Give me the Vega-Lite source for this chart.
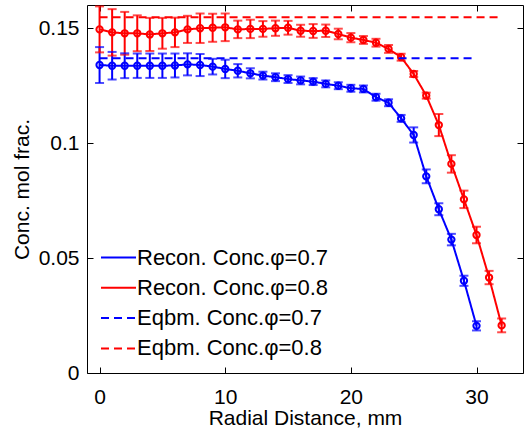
{
 "$schema": "https://vega.github.io/schema/vega-lite/v6.json",
 "width": 436, "height": 368,
 "autosize": {"type": "none"},
 "padding": {"left": 87, "top": 5, "right": 1, "bottom": 57},
 "background": "white",
 "config": {
  "font": "Liberation Sans",
  "view": {"stroke": "black", "strokeWidth": 1},
  "axis": {"domain": false, "grid": false, "tickSize": -6, "tickColor": "black", "tickWidth": 1,
           "labelFontSize": 21, "titleFontSize": 21, "titleFontWeight": "normal", "labelColor": "black", "titleColor": "black"}
 },
 "datasets": {
  "recon": [
   {"x":0,"y":0.1339,"lo":0.1261,"hi":0.1417,"series":"Recon. Conc.φ=0.7"},
   {"x":1,"y":0.1336,"lo":0.1276,"hi":0.1396,"series":"Recon. Conc.φ=0.7"},
   {"x":2,"y":0.1336,"lo":0.1282,"hi":0.1390,"series":"Recon. Conc.φ=0.7"},
   {"x":3,"y":0.1336,"lo":0.1283,"hi":0.1389,"series":"Recon. Conc.φ=0.7"},
   {"x":4,"y":0.1336,"lo":0.1283,"hi":0.1389,"series":"Recon. Conc.φ=0.7"},
   {"x":5,"y":0.1336,"lo":0.1283,"hi":0.1389,"series":"Recon. Conc.φ=0.7"},
   {"x":6,"y":0.1337,"lo":0.1285,"hi":0.1389,"series":"Recon. Conc.φ=0.7"},
   {"x":7,"y":0.1342,"lo":0.1294,"hi":0.1390,"series":"Recon. Conc.φ=0.7"},
   {"x":8,"y":0.1339,"lo":0.1291,"hi":0.1387,"series":"Recon. Conc.φ=0.7"},
   {"x":9,"y":0.1332,"lo":0.1298,"hi":0.1366,"series":"Recon. Conc.φ=0.7"},
   {"x":10,"y":0.1322,"lo":0.1282,"hi":0.1362,"series":"Recon. Conc.φ=0.7"},
   {"x":11,"y":0.1314,"lo":0.1285,"hi":0.1343,"series":"Recon. Conc.φ=0.7"},
   {"x":12,"y":0.1303,"lo":0.1281,"hi":0.1325,"series":"Recon. Conc.φ=0.7"},
   {"x":13,"y":0.1293,"lo":0.1276,"hi":0.1310,"series":"Recon. Conc.φ=0.7"},
   {"x":14,"y":0.1286,"lo":0.1269,"hi":0.1303,"series":"Recon. Conc.φ=0.7"},
   {"x":15,"y":0.1278,"lo":0.1261,"hi":0.1295,"series":"Recon. Conc.φ=0.7"},
   {"x":16,"y":0.1272,"lo":0.1255,"hi":0.1289,"series":"Recon. Conc.φ=0.7"},
   {"x":17,"y":0.1267,"lo":0.1252,"hi":0.1282,"series":"Recon. Conc.φ=0.7"},
   {"x":18,"y":0.1257,"lo":0.1242,"hi":0.1272,"series":"Recon. Conc.φ=0.7"},
   {"x":19,"y":0.1249,"lo":0.1234,"hi":0.1264,"series":"Recon. Conc.φ=0.7"},
   {"x":20,"y":0.1238,"lo":0.1223,"hi":0.1253,"series":"Recon. Conc.φ=0.7"},
   {"x":21,"y":0.1235,"lo":0.1220,"hi":0.1250,"series":"Recon. Conc.φ=0.7"},
   {"x":22,"y":0.1199,"lo":0.1184,"hi":0.1214,"series":"Recon. Conc.φ=0.7"},
   {"x":23,"y":0.1175,"lo":0.1160,"hi":0.1190,"series":"Recon. Conc.φ=0.7"},
   {"x":24,"y":0.1107,"lo":0.1092,"hi":0.1122,"series":"Recon. Conc.φ=0.7"},
   {"x":25,"y":0.1035,"lo":0.1002,"hi":0.1068,"series":"Recon. Conc.φ=0.7"},
   {"x":26,"y":0.0855,"lo":0.0825,"hi":0.0885,"series":"Recon. Conc.φ=0.7"},
   {"x":27,"y":0.0712,"lo":0.0686,"hi":0.0738,"series":"Recon. Conc.φ=0.7"},
   {"x":28,"y":0.0580,"lo":0.0555,"hi":0.0605,"series":"Recon. Conc.φ=0.7"},
   {"x":29,"y":0.0401,"lo":0.0379,"hi":0.0423,"series":"Recon. Conc.φ=0.7"},
   {"x":30,"y":0.0205,"lo":0.0185,"hi":0.0225,"series":"Recon. Conc.φ=0.7"},
   {"x":0,"y":0.1494,"lo":0.1394,"hi":0.1594,"series":"Recon. Conc.φ=0.8"},
   {"x":1,"y":0.1481,"lo":0.1380,"hi":0.1582,"series":"Recon. Conc.φ=0.8"},
   {"x":2,"y":0.1477,"lo":0.1384,"hi":0.1570,"series":"Recon. Conc.φ=0.8"},
   {"x":3,"y":0.1477,"lo":0.1399,"hi":0.1555,"series":"Recon. Conc.φ=0.8"},
   {"x":4,"y":0.1472,"lo":0.1400,"hi":0.1544,"series":"Recon. Conc.φ=0.8"},
   {"x":5,"y":0.1477,"lo":0.1410,"hi":0.1544,"series":"Recon. Conc.φ=0.8"},
   {"x":6,"y":0.1481,"lo":0.1417,"hi":0.1545,"series":"Recon. Conc.φ=0.8"},
   {"x":7,"y":0.1494,"lo":0.1435,"hi":0.1553,"series":"Recon. Conc.φ=0.8"},
   {"x":8,"y":0.1499,"lo":0.1435,"hi":0.1563,"series":"Recon. Conc.φ=0.8"},
   {"x":9,"y":0.1501,"lo":0.1440,"hi":0.1562,"series":"Recon. Conc.φ=0.8"},
   {"x":10,"y":0.1503,"lo":0.1443,"hi":0.1563,"series":"Recon. Conc.φ=0.8"},
   {"x":11,"y":0.1494,"lo":0.1456,"hi":0.1532,"series":"Recon. Conc.φ=0.8"},
   {"x":12,"y":0.1496,"lo":0.1456,"hi":0.1536,"series":"Recon. Conc.φ=0.8"},
   {"x":13,"y":0.1496,"lo":0.1462,"hi":0.1530,"series":"Recon. Conc.φ=0.8"},
   {"x":14,"y":0.1499,"lo":0.1466,"hi":0.1532,"series":"Recon. Conc.φ=0.8"},
   {"x":15,"y":0.1501,"lo":0.1471,"hi":0.1531,"series":"Recon. Conc.φ=0.8"},
   {"x":16,"y":0.1488,"lo":0.1462,"hi":0.1514,"series":"Recon. Conc.φ=0.8"},
   {"x":17,"y":0.1487,"lo":0.1457,"hi":0.1517,"series":"Recon. Conc.φ=0.8"},
   {"x":18,"y":0.1488,"lo":0.1461,"hi":0.1515,"series":"Recon. Conc.φ=0.8"},
   {"x":19,"y":0.1474,"lo":0.1451,"hi":0.1497,"series":"Recon. Conc.φ=0.8"},
   {"x":20,"y":0.1458,"lo":0.1438,"hi":0.1478,"series":"Recon. Conc.φ=0.8"},
   {"x":21,"y":0.1448,"lo":0.1431,"hi":0.1465,"series":"Recon. Conc.φ=0.8"},
   {"x":22,"y":0.1436,"lo":0.1419,"hi":0.1453,"series":"Recon. Conc.φ=0.8"},
   {"x":23,"y":0.1409,"lo":0.1392,"hi":0.1426,"series":"Recon. Conc.φ=0.8"},
   {"x":24,"y":0.1373,"lo":0.1358,"hi":0.1388,"series":"Recon. Conc.φ=0.8"},
   {"x":25,"y":0.1300,"lo":0.1287,"hi":0.1313,"series":"Recon. Conc.φ=0.8"},
   {"x":26,"y":0.1206,"lo":0.1193,"hi":0.1219,"series":"Recon. Conc.φ=0.8"},
   {"x":27,"y":0.1078,"lo":0.1030,"hi":0.1126,"series":"Recon. Conc.φ=0.8"},
   {"x":28,"y":0.0909,"lo":0.0871,"hi":0.0947,"series":"Recon. Conc.φ=0.8"},
   {"x":29,"y":0.0755,"lo":0.0717,"hi":0.0793,"series":"Recon. Conc.φ=0.8"},
   {"x":30,"y":0.0600,"lo":0.0564,"hi":0.0636,"series":"Recon. Conc.φ=0.8"},
   {"x":31,"y":0.0415,"lo":0.0386,"hi":0.0444,"series":"Recon. Conc.φ=0.8"},
   {"x":32,"y":0.0207,"lo":0.0177,"hi":0.0237,"series":"Recon. Conc.φ=0.8"}
  ],
  "eqbm": [
   {"x":0,"y":0.1368,"series":"Eqbm. Conc.φ=0.7"},
   {"x":30,"y":0.1368,"series":"Eqbm. Conc.φ=0.7"},
   {"x":0,"y":0.1547,"series":"Eqbm. Conc.φ=0.8"},
   {"x":32,"y":0.1547,"series":"Eqbm. Conc.φ=0.8"}
  ]
 },
 "layer": [
  {
   "layer": [
    {
     "data": {"name": "recon"},
     "mark": {"type": "rule", "strokeWidth": 2},
     "encoding": {
      "x": {"field": "x", "type": "quantitative"},
      "y": {"field": "lo", "type": "quantitative"},
      "y2": {"field": "hi"},
      "stroke": {"field": "series", "type": "nominal", "legend": null,
                 "scale": {"domain": ["Recon. Conc.φ=0.7", "Recon. Conc.φ=0.8"], "range": ["#0000ff", "#ff0000"]}}
     }
    },
    {
     "data": {"name": "recon"},
     "mark": {"type": "tick", "orient": "horizontal", "size": 9, "thickness": 2},
     "encoding": {
      "x": {"field": "x", "type": "quantitative"},
      "y": {"field": "lo", "type": "quantitative"},
      "fill": {"field": "series", "type": "nominal", "legend": null,
               "scale": {"domain": ["Recon. Conc.φ=0.7", "Recon. Conc.φ=0.8"], "range": ["#0000ff", "#ff0000"]}}
     }
    },
    {
     "data": {"name": "recon"},
     "mark": {"type": "tick", "orient": "horizontal", "size": 9, "thickness": 2},
     "encoding": {
      "x": {"field": "x", "type": "quantitative"},
      "y": {"field": "hi", "type": "quantitative"},
      "fill": {"field": "series", "type": "nominal", "legend": null}
     }
    },
    {
     "data": {"name": "recon"},
     "mark": {"type": "point", "filled": false, "strokeWidth": 2, "size": 40, "opacity": 1},
     "encoding": {
      "x": {"field": "x", "type": "quantitative"},
      "y": {"field": "y", "type": "quantitative"},
      "stroke": {"field": "series", "type": "nominal", "legend": null}
     }
    },
    {
     "data": {"name": "recon"},
     "mark": {"type": "line", "strokeWidth": 2},
     "encoding": {
      "x": {"field": "x", "type": "quantitative"},
      "y": {"field": "y", "type": "quantitative"},
      "color": {"field": "series", "type": "nominal"},
      "strokeDash": {"field": "series", "type": "nominal"}
     }
    },
    {
     "data": {"name": "eqbm"},
     "mark": {"type": "line", "strokeWidth": 2},
     "encoding": {
      "x": {"field": "x", "type": "quantitative",
            "scale": {"domain": [-1, 33.7], "nice": false, "zero": false},
            "axis": {"values": [0, 10, 20, 30], "title": "Radial Distance, mm", "labelPadding": 19, "titlePadding": 0}},
      "y": {"field": "y", "type": "quantitative",
            "scale": {"domain": [0, 0.16], "nice": false},
            "axis": {"values": [0, 0.05, 0.1, 0.15], "format": "~g", "title": "Conc. mol frac.", "labelPadding": 14, "titlePadding": 6}},
      "color": {"field": "series", "type": "nominal",
                "scale": {"domain": ["Recon. Conc.φ=0.7", "Recon. Conc.φ=0.8", "Eqbm. Conc.φ=0.7", "Eqbm. Conc.φ=0.8"],
                          "range": ["#0000ff", "#ff0000", "#0000ff", "#ff0000"]},
                "legend": {"orient": "none", "legendX": 13, "legendY": 234, "title": null, "symbolType": "stroke",
                           "symbolSize": 1225, "symbolStrokeWidth": 2, "labelFontSize": 22, "labelColor": "black",
                           "rowPadding": 0.3, "labelOffset": 0, "labelLimit": 400}},
      "strokeDash": {"field": "series", "type": "nominal",
                     "scale": {"domain": ["Recon. Conc.φ=0.7", "Recon. Conc.φ=0.8", "Eqbm. Conc.φ=0.7", "Eqbm. Conc.φ=0.8"],
                               "range": [[1, 0], [1, 0], [8, 5], [8, 5]]}}
     }
    }
   ]
  },
  {
   "data": {"name": "eqbm"},
   "mark": {"type": "point", "opacity": 0},
   "encoding": {
    "x": {"field": "x", "type": "quantitative", "scale": {"domain": [-1, 33.7], "nice": false, "zero": false},
          "axis": {"orient": "top", "values": [0, 10, 20, 30], "labels": false, "title": null}},
    "y": {"field": "y", "type": "quantitative", "scale": {"domain": [0, 0.16], "nice": false},
          "axis": {"orient": "right", "values": [0, 0.05, 0.1, 0.15], "labels": false, "title": null}}
   }
  }
 ],
 "resolve": {"axis": {"x": "independent", "y": "independent"}}
}
